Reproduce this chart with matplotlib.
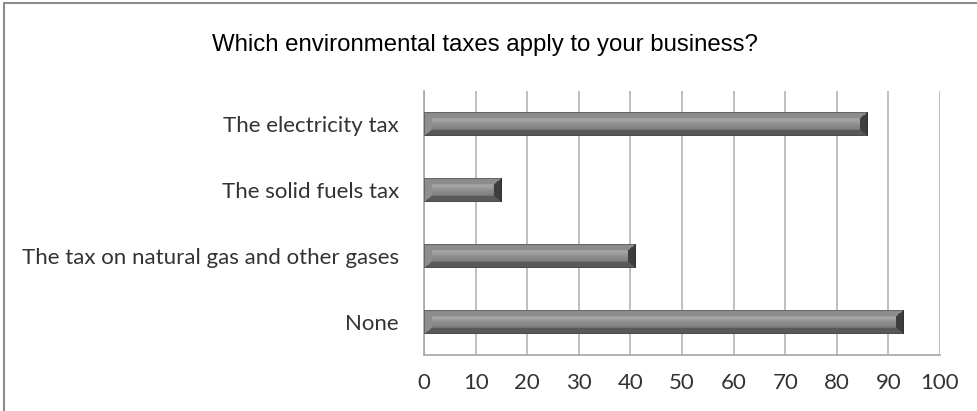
import numpy as np
import matplotlib
matplotlib.use("Agg")
import matplotlib.pyplot as plt
from matplotlib.patches import Rectangle

categories = ["The electricity tax", "The solid fuels tax",
              "The tax on natural gas and other gases", "None"]
values = [86, 15, 41, 93]
x_ticks = [0, 10, 20, 30, 40, 50, 60, 70, 80, 90, 100]
title = "Which environmental taxes apply to your business?"


def bevel_image(w, h, bx=8, by=6):
    # grey bar with a raised bevel: light top/left facets, dark bottom/right
    w = max(int(w), 2)
    h = max(int(h), 2)
    jj, ii = np.meshgrid(np.arange(w), np.arange(h))
    t = ii / (h - 1)
    face = np.interp(t, [0, 0.3, 0.5, 1.0], [0.50, 0.66, 0.56, 0.42])
    img = face.copy()
    d = np.stack([jj / bx, (w - 1 - jj) / bx, ii / by, (h - 1 - ii) / by])
    side = np.argmin(d, axis=0)
    inside = d.min(axis=0) < 1
    img[inside & (side == 0)] = 0.56
    img[inside & (side == 1)] = 0.24
    img[inside & (side == 2)] = 0.55
    img[inside & (side == 3)] = 0.35
    img[0, :] = 0.40
    img[-1, :] = 0.30
    img[:, 0] = 0.40
    img[:, -1] = 0.20
    return np.dstack([img, img, img])


fig = plt.figure(figsize=(9.77, 4.11), dpi=100)
ax = fig.add_axes([424 / 977, 1 - 355 / 411, 516 / 977, 264 / 411])

ypos = np.arange(len(categories))
bars = ax.barh(ypos, values, height=0.36, color="#808080", zorder=2)

ax.set_xlim(0, 100)
ax.set_ylim(len(categories) - 0.5, -0.5)
fig.canvas.draw()

px_per_x = ax.transData.transform((1, 0))[0] - ax.transData.transform((0, 0))[0]
px_per_y = abs(ax.transData.transform((0, 1))[1] - ax.transData.transform((0, 0))[1])

for b in bars:
    x0, w = b.get_x(), b.get_width()
    y0, hh = b.get_y(), b.get_height()
    img = bevel_image(w * px_per_x, hh * px_per_y)
    ax.imshow(img, extent=(x0, x0 + w, y0 + hh, y0), aspect="auto",
              interpolation="bilinear", zorder=3)

ax.set_xlim(0, 100)
ax.set_ylim(len(categories) - 0.5, -0.5)

ax.set_xticks(x_ticks)
ax.set_yticks(ypos)
ax.set_yticklabels(categories)
ax.xaxis.grid(True, color="#b4b4b4", linewidth=1.2, zorder=0)
ax.set_axisbelow(True)
for s in ["top", "right"]:
    ax.spines[s].set_visible(False)
for s in ["left", "bottom"]:
    ax.spines[s].set_color("#a6a6a6")
    ax.spines[s].set_linewidth(1.2)

ax.tick_params(axis="both", length=0, labelcolor="#333333")
ax.tick_params(axis="x", pad=13)
ax.tick_params(axis="y", pad=18)
for lab in ax.get_xticklabels() + ax.get_yticklabels():
    lab.set_fontfamily("Lato")
    lab.set_fontsize(16)

fig.text(485 / 977, 1 - 45 / 411, title, ha="center", va="center",
         fontsize=17.3, family="Liberation Sans", color="black")

# chart frame
fig.patches.append(Rectangle((4 / 977, -0.1), 1.1, 1.1 - 3 / 411,
                             transform=fig.transFigure, fill=False,
                             edgecolor="#8c8c8c", linewidth=1.5))

fig.savefig("out.png", dpi=100)
